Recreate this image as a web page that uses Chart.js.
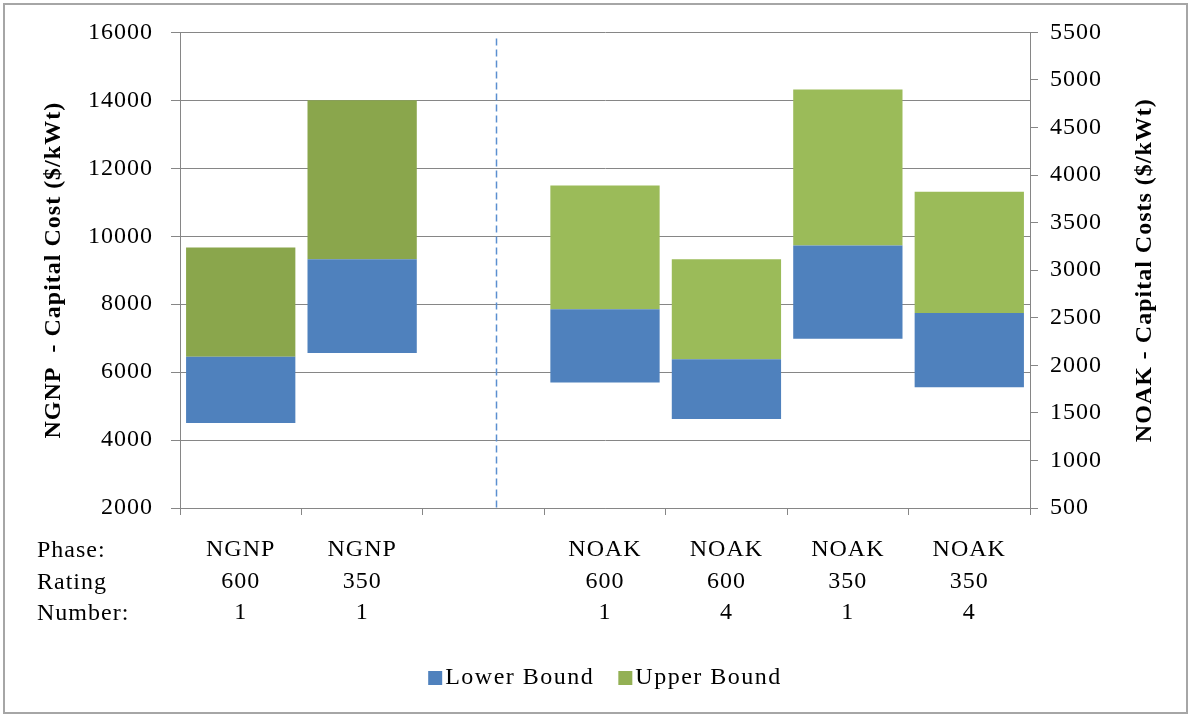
<!DOCTYPE html>
<html>
<head>
<meta charset="utf-8">
<script src="https://cdn.jsdelivr.net/npm/chart.js@4.4.1/dist/chart.umd.min.js"></script>
<style>
  html, body { margin: 0; padding: 0; background: #ffffff; }
  #wrap { width: 1191px; height: 717px; position: relative; }
  canvas { display: block; }
</style>
</head>
<body>
<div id="wrap"><canvas id="chart" width="1191" height="717"></canvas></div>
<script>
// Category rows printed under the axis
const phases  = ['NGNP', 'NGNP', '', 'NOAK', 'NOAK', 'NOAK', 'NOAK'];
const ratings = ['600', '350', '', '600', '600', '350', '350'];
const numbers = ['1', '1', '', '1', '4', '1', '4'];
const rowTitles = ['Phase:', 'Rating', 'Number:'];

// NGNP capital cost ($/kWt), left axis
const ngnpLow  = [4500, 6560, null, null, null, null, null];
const ngnpMid  = [6450, 9320, null, null, null, null, null];
const ngnpHigh = [9670, 14000, null, null, null, null, null];

// NOAK capital costs ($/kWt), right axis
const noakLow  = [null, null, null, 1820, 1435, 2280, 1770];
const noakMid  = [null, null, null, 2590, 2065, 3260, 2550];
const noakHigh = [null, null, null, 3890, 3115, 4900, 3825];

// Axis ranges and series names
const leftTicks  = { min: 2000, max: 16000, step: 2000 };
const rightTicks = { min: 500, max: 5500, step: 500 };
const seriesNames = ['Lower Bound', 'Upper Bound'];
const leftTitle  = 'NGNP  - Capital Cost ($/kWt)';
const rightTitle = 'NOAK - Capital Costs ($/kWt)';
const dividerAt = 2.1; // phase separator, in category units

const BLUE = '#4f81bd';
const OLIVE = '#8aa64c';
const GREEN = '#9bbb59';
const LEGEND_GREEN = '#93b054';
const SERIF = '"Liberation Serif", "Times New Roman", serif';
const TICK_FONT = 24;
const LINE_H = 31.5;
const SPACING = '1px';

const labels = phases.map((p, i) => [p, ratings[i], numbers[i]]);
const pairs = (a, b) => a.map((v, i) => (v === null ? null : [v, b[i]]));
const plain = (v) => String(v);

const frame = {
  id: 'frame',
  beforeUpdate(chart) { chart.ctx.letterSpacing = SPACING; },
  beforeDraw(chart) {
    const c = chart.ctx;
    c.letterSpacing = SPACING;
    c.save();
    c.fillStyle = '#ffffff';
    c.fillRect(0, 0, chart.width, chart.height);
    c.strokeStyle = '#a6a6a6';
    c.lineWidth = 2;
    c.strokeRect(4, 4, chart.width - 8, chart.height - 8);
    c.restore();
  },
  afterDatasetsDraw(chart) {
    const c = chart.ctx;
    const xs = chart.scales.x;
    const area = chart.chartArea;
    // dashed phase separator
    const x0 = xs.getPixelForValue(Math.floor(dividerAt));
    const x1 = xs.getPixelForValue(Math.floor(dividerAt) + 1);
    const xd = Math.round(x0 + (x1 - x0) * (dividerAt - Math.floor(dividerAt))) + 0.5;
    c.save();
    c.strokeStyle = '#5b8fd0';
    c.lineWidth = 1.5;
    c.setLineDash([7, 4]);
    c.beginPath();
    c.moveTo(xd, area.top + 6);
    c.lineTo(xd, area.bottom);
    c.stroke();
    c.restore();
  },
  afterDraw(chart) {
    const c = chart.ctx;
    const area = chart.chartArea;
    const xs = chart.scales.x;
    const midY = (area.top + area.bottom) / 2;
    c.save();
    c.letterSpacing = SPACING;
    // axis titles, both reading bottom to top
    c.fillStyle = '#000000';
    c.font = 'bold 24px ' + SERIF;
    c.textAlign = 'center';
    c.textBaseline = 'middle';
    c.save();
    c.translate(54, midY);
    c.rotate(-Math.PI / 2);
    c.fillText(leftTitle, 0, 0);
    c.restore();
    c.save();
    c.translate(1145, midY);
    c.rotate(-Math.PI / 2);
    c.fillText(rightTitle, 0, 0);
    c.restore();

    // row titles beside the category labels
    c.font = TICK_FONT + 'px ' + SERIF;
    c.textAlign = 'left';
    const firstY = xs.top + xs.options.grid.tickLength + xs.options.ticks.padding + LINE_H / 2 + 1;
    rowTitles.forEach((t, i) => c.fillText(t, 37, firstY + i * LINE_H));

    // legend
    c.letterSpacing = '1.5px';
    const items = [
      { text: seriesNames[0], color: BLUE },
      { text: seriesNames[1], color: LEGEND_GREEN }
    ];
    const box = 14, gap = 3, spacing = 24;
    const widths = items.map(it => box + gap + c.measureText(it.text).width);
    const total = widths.reduce((a, b) => a + b, 0) + spacing * (items.length - 1);
    let lx = (area.left + area.right) / 2 - total / 2;
    const ly = 678;
    items.forEach((it, i) => {
      c.fillStyle = it.color;
      c.fillRect(lx, ly - box / 2, box, box);
      c.fillStyle = '#000000';
      c.fillText(it.text, lx + box + gap, ly);
      lx += widths[i] + spacing;
    });
    c.restore();
  }
};

const common = { categoryPercentage: 0.9, barPercentage: 1.0, borderWidth: 0 };

new Chart(document.getElementById('chart'), {
  type: 'bar',
  data: {
    labels: labels,
    datasets: [
      { ...common, label: seriesNames[0], data: pairs(ngnpLow, ngnpMid), backgroundColor: BLUE, yAxisID: 'y' },
      { ...common, label: seriesNames[1], data: pairs(ngnpMid, ngnpHigh), backgroundColor: OLIVE, yAxisID: 'y' },
      { ...common, label: seriesNames[0], data: pairs(noakLow, noakMid), backgroundColor: BLUE, yAxisID: 'y2' },
      { ...common, label: seriesNames[1], data: pairs(noakMid, noakHigh), backgroundColor: GREEN, yAxisID: 'y2' }
    ]
  },
  options: {
    responsive: false,
    animation: false,
    devicePixelRatio: 1,
    layout: { padding: { left: 0, right: 0, top: 32, bottom: 79 } },
    plugins: {
      legend: { display: false },
      tooltip: { enabled: false },
      title: { display: false }
    },
    scales: {
      x: {
        stacked: true,
        offset: true,
        grid: { offset: true, drawOnChartArea: false, drawTicks: true, tickLength: 7, color: '#868686' },
        border: { display: true, color: '#868686', width: 1 },
        ticks: {
          color: '#000000',
          font: { family: SERIF, size: TICK_FONT, lineHeight: LINE_H / TICK_FONT },
          padding: 19,
          maxRotation: 0,
          autoSkip: false
        },
        afterFit(scale) { scale.height = 130; }
      },
      y: {
        position: 'left',
        min: leftTicks.min,
        max: leftTicks.max,
        ticks: {
          stepSize: leftTicks.step,
          callback: plain,
          color: '#000000',
          font: { family: SERIF, size: TICK_FONT },
          padding: 18
        },
        grid: { color: '#868686', tickLength: 9, lineWidth: 1 },
        border: { display: true, color: '#868686', width: 1 },
        afterFit(scale) { scale.width = 180; }
      },
      y2: {
        position: 'right',
        min: rightTicks.min,
        max: rightTicks.max,
        ticks: {
          stepSize: rightTicks.step,
          callback: plain,
          color: '#000000',
          font: { family: SERIF, size: TICK_FONT },
          padding: 12
        },
        grid: { drawOnChartArea: false, color: '#868686', tickLength: 8 },
        border: { display: true, color: '#868686', width: 1 },
        afterFit(scale) { scale.width = 161; }
      }
    }
  },
  plugins: [frame]
});
</script>
</body>
</html>
